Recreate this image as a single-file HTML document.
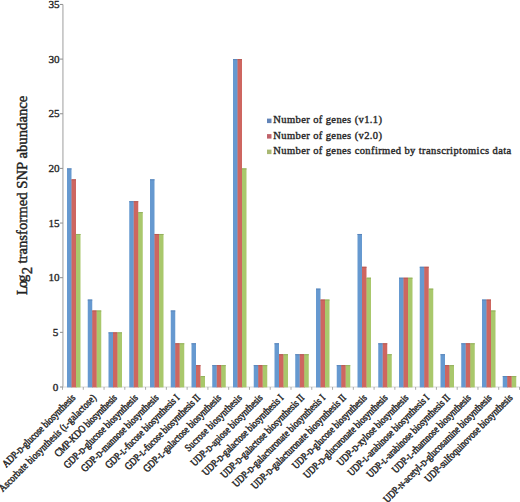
<!DOCTYPE html>
<html><head><meta charset="utf-8"><style>
html,body{margin:0;padding:0;background:#fff;width:520px;height:502px;overflow:hidden}
svg{display:block}
.t{font-family:"Liberation Serif",serif;font-size:11.2px;fill:#1e1e1e}
.s{font-family:"Liberation Serif",serif;fill:#1e1e1e}
.sc{font-size:78%;text-transform:uppercase}
</style></head><body>
<svg width="520" height="502" viewBox="0 0 520 502">
<line x1="62.90" y1="4.4" x2="62.90" y2="387.60" stroke="#c6c6c6" stroke-width="1.7"/>
<line x1="62.90" y1="387.00" x2="520" y2="387.00" stroke="#d8d8d8" stroke-width="1.20"/>
<rect x="67.00" y="168.40" width="4.50" height="219.00" fill="#6699D0"/>
<rect x="67.00" y="168.40" width="4.50" height="1.00" fill="#5a86ba"/>
<rect x="71.30" y="179.83" width="0.8" height="207.57" fill="#6699D0"/>
<rect x="71.50" y="179.33" width="4.50" height="208.07" fill="#CE6660"/>
<rect x="71.50" y="179.33" width="4.50" height="1.00" fill="#b55a55"/>
<rect x="75.80" y="234.48" width="0.8" height="152.92" fill="#CE6660"/>
<rect x="76.00" y="233.98" width="4.50" height="153.42" fill="#A9C86C"/>
<rect x="76.00" y="233.98" width="4.50" height="1.00" fill="#94b05e"/>
<rect x="87.75" y="299.56" width="4.50" height="87.84" fill="#6699D0"/>
<rect x="87.75" y="299.56" width="4.50" height="1.00" fill="#5a86ba"/>
<rect x="92.05" y="310.99" width="0.8" height="76.41" fill="#6699D0"/>
<rect x="92.25" y="310.49" width="4.50" height="76.91" fill="#CE6660"/>
<rect x="92.25" y="310.49" width="4.50" height="1.00" fill="#b55a55"/>
<rect x="96.55" y="310.99" width="0.8" height="76.41" fill="#CE6660"/>
<rect x="96.75" y="310.49" width="4.50" height="76.91" fill="#A9C86C"/>
<rect x="96.75" y="310.49" width="4.50" height="1.00" fill="#94b05e"/>
<rect x="108.50" y="332.35" width="4.50" height="55.05" fill="#6699D0"/>
<rect x="108.50" y="332.35" width="4.50" height="1.00" fill="#5a86ba"/>
<rect x="112.80" y="332.85" width="0.8" height="54.55" fill="#6699D0"/>
<rect x="113.00" y="332.35" width="4.50" height="55.05" fill="#CE6660"/>
<rect x="113.00" y="332.35" width="4.50" height="1.00" fill="#b55a55"/>
<rect x="117.30" y="332.85" width="0.8" height="54.55" fill="#CE6660"/>
<rect x="117.50" y="332.35" width="4.50" height="55.05" fill="#A9C86C"/>
<rect x="117.50" y="332.35" width="4.50" height="1.00" fill="#94b05e"/>
<rect x="129.25" y="201.19" width="4.50" height="186.21" fill="#6699D0"/>
<rect x="129.25" y="201.19" width="4.50" height="1.00" fill="#5a86ba"/>
<rect x="133.55" y="201.69" width="0.8" height="185.71" fill="#6699D0"/>
<rect x="133.75" y="201.19" width="4.50" height="186.21" fill="#CE6660"/>
<rect x="133.75" y="201.19" width="4.50" height="1.00" fill="#b55a55"/>
<rect x="138.05" y="212.62" width="0.8" height="174.78" fill="#CE6660"/>
<rect x="138.25" y="212.12" width="4.50" height="175.28" fill="#A9C86C"/>
<rect x="138.25" y="212.12" width="4.50" height="1.00" fill="#94b05e"/>
<rect x="150.00" y="179.33" width="4.50" height="208.07" fill="#6699D0"/>
<rect x="150.00" y="179.33" width="4.50" height="1.00" fill="#5a86ba"/>
<rect x="154.30" y="234.48" width="0.8" height="152.92" fill="#6699D0"/>
<rect x="154.50" y="233.98" width="4.50" height="153.42" fill="#CE6660"/>
<rect x="154.50" y="233.98" width="4.50" height="1.00" fill="#b55a55"/>
<rect x="158.80" y="234.48" width="0.8" height="152.92" fill="#CE6660"/>
<rect x="159.00" y="233.98" width="4.50" height="153.42" fill="#A9C86C"/>
<rect x="159.00" y="233.98" width="4.50" height="1.00" fill="#94b05e"/>
<rect x="170.75" y="310.49" width="4.50" height="76.91" fill="#6699D0"/>
<rect x="170.75" y="310.49" width="4.50" height="1.00" fill="#5a86ba"/>
<rect x="175.05" y="343.78" width="0.8" height="43.62" fill="#6699D0"/>
<rect x="175.25" y="343.28" width="4.50" height="44.12" fill="#CE6660"/>
<rect x="175.25" y="343.28" width="4.50" height="1.00" fill="#b55a55"/>
<rect x="179.55" y="343.78" width="0.8" height="43.62" fill="#CE6660"/>
<rect x="179.75" y="343.28" width="4.50" height="44.12" fill="#A9C86C"/>
<rect x="179.75" y="343.28" width="4.50" height="1.00" fill="#94b05e"/>
<rect x="191.50" y="343.28" width="4.50" height="44.12" fill="#6699D0"/>
<rect x="191.50" y="343.28" width="4.50" height="1.00" fill="#5a86ba"/>
<rect x="195.80" y="365.64" width="0.8" height="21.76" fill="#6699D0"/>
<rect x="196.00" y="365.14" width="4.50" height="22.26" fill="#CE6660"/>
<rect x="196.00" y="365.14" width="4.50" height="1.00" fill="#b55a55"/>
<rect x="200.30" y="376.57" width="0.8" height="10.83" fill="#CE6660"/>
<rect x="200.50" y="376.07" width="4.50" height="11.33" fill="#A9C86C"/>
<rect x="200.50" y="376.07" width="4.50" height="1.00" fill="#94b05e"/>
<rect x="212.25" y="365.14" width="4.50" height="22.26" fill="#6699D0"/>
<rect x="212.25" y="365.14" width="4.50" height="1.00" fill="#5a86ba"/>
<rect x="216.55" y="365.64" width="0.8" height="21.76" fill="#6699D0"/>
<rect x="216.75" y="365.14" width="4.50" height="22.26" fill="#CE6660"/>
<rect x="216.75" y="365.14" width="4.50" height="1.00" fill="#b55a55"/>
<rect x="221.05" y="365.64" width="0.8" height="21.76" fill="#CE6660"/>
<rect x="221.25" y="365.14" width="4.50" height="22.26" fill="#A9C86C"/>
<rect x="221.25" y="365.14" width="4.50" height="1.00" fill="#94b05e"/>
<rect x="233.00" y="59.10" width="4.50" height="328.30" fill="#6699D0"/>
<rect x="233.00" y="59.10" width="4.50" height="1.00" fill="#5a86ba"/>
<rect x="237.30" y="59.60" width="0.8" height="327.80" fill="#6699D0"/>
<rect x="237.50" y="59.10" width="4.50" height="328.30" fill="#CE6660"/>
<rect x="237.50" y="59.10" width="4.50" height="1.00" fill="#b55a55"/>
<rect x="241.80" y="168.90" width="0.8" height="218.50" fill="#CE6660"/>
<rect x="242.00" y="168.40" width="4.50" height="219.00" fill="#A9C86C"/>
<rect x="242.00" y="168.40" width="4.50" height="1.00" fill="#94b05e"/>
<rect x="253.75" y="365.14" width="4.50" height="22.26" fill="#6699D0"/>
<rect x="253.75" y="365.14" width="4.50" height="1.00" fill="#5a86ba"/>
<rect x="258.05" y="365.64" width="0.8" height="21.76" fill="#6699D0"/>
<rect x="258.25" y="365.14" width="4.50" height="22.26" fill="#CE6660"/>
<rect x="258.25" y="365.14" width="4.50" height="1.00" fill="#b55a55"/>
<rect x="262.55" y="365.64" width="0.8" height="21.76" fill="#CE6660"/>
<rect x="262.75" y="365.14" width="4.50" height="22.26" fill="#A9C86C"/>
<rect x="262.75" y="365.14" width="4.50" height="1.00" fill="#94b05e"/>
<rect x="274.50" y="343.28" width="4.50" height="44.12" fill="#6699D0"/>
<rect x="274.50" y="343.28" width="4.50" height="1.00" fill="#5a86ba"/>
<rect x="278.80" y="354.71" width="0.8" height="32.69" fill="#6699D0"/>
<rect x="279.00" y="354.21" width="4.50" height="33.19" fill="#CE6660"/>
<rect x="279.00" y="354.21" width="4.50" height="1.00" fill="#b55a55"/>
<rect x="283.30" y="354.71" width="0.8" height="32.69" fill="#CE6660"/>
<rect x="283.50" y="354.21" width="4.50" height="33.19" fill="#A9C86C"/>
<rect x="283.50" y="354.21" width="4.50" height="1.00" fill="#94b05e"/>
<rect x="295.25" y="354.21" width="4.50" height="33.19" fill="#6699D0"/>
<rect x="295.25" y="354.21" width="4.50" height="1.00" fill="#5a86ba"/>
<rect x="299.55" y="354.71" width="0.8" height="32.69" fill="#6699D0"/>
<rect x="299.75" y="354.21" width="4.50" height="33.19" fill="#CE6660"/>
<rect x="299.75" y="354.21" width="4.50" height="1.00" fill="#b55a55"/>
<rect x="304.05" y="354.71" width="0.8" height="32.69" fill="#CE6660"/>
<rect x="304.25" y="354.21" width="4.50" height="33.19" fill="#A9C86C"/>
<rect x="304.25" y="354.21" width="4.50" height="1.00" fill="#94b05e"/>
<rect x="316.00" y="288.63" width="4.50" height="98.77" fill="#6699D0"/>
<rect x="316.00" y="288.63" width="4.50" height="1.00" fill="#5a86ba"/>
<rect x="320.30" y="300.06" width="0.8" height="87.34" fill="#6699D0"/>
<rect x="320.50" y="299.56" width="4.50" height="87.84" fill="#CE6660"/>
<rect x="320.50" y="299.56" width="4.50" height="1.00" fill="#b55a55"/>
<rect x="324.80" y="300.06" width="0.8" height="87.34" fill="#CE6660"/>
<rect x="325.00" y="299.56" width="4.50" height="87.84" fill="#A9C86C"/>
<rect x="325.00" y="299.56" width="4.50" height="1.00" fill="#94b05e"/>
<rect x="336.75" y="365.14" width="4.50" height="22.26" fill="#6699D0"/>
<rect x="336.75" y="365.14" width="4.50" height="1.00" fill="#5a86ba"/>
<rect x="341.05" y="365.64" width="0.8" height="21.76" fill="#6699D0"/>
<rect x="341.25" y="365.14" width="4.50" height="22.26" fill="#CE6660"/>
<rect x="341.25" y="365.14" width="4.50" height="1.00" fill="#b55a55"/>
<rect x="345.55" y="365.64" width="0.8" height="21.76" fill="#CE6660"/>
<rect x="345.75" y="365.14" width="4.50" height="22.26" fill="#A9C86C"/>
<rect x="345.75" y="365.14" width="4.50" height="1.00" fill="#94b05e"/>
<rect x="357.50" y="233.98" width="4.50" height="153.42" fill="#6699D0"/>
<rect x="357.50" y="233.98" width="4.50" height="1.00" fill="#5a86ba"/>
<rect x="361.80" y="267.27" width="0.8" height="120.13" fill="#6699D0"/>
<rect x="362.00" y="266.77" width="4.50" height="120.63" fill="#CE6660"/>
<rect x="362.00" y="266.77" width="4.50" height="1.00" fill="#b55a55"/>
<rect x="366.30" y="278.20" width="0.8" height="109.20" fill="#CE6660"/>
<rect x="366.50" y="277.70" width="4.50" height="109.70" fill="#A9C86C"/>
<rect x="366.50" y="277.70" width="4.50" height="1.00" fill="#94b05e"/>
<rect x="378.25" y="343.28" width="4.50" height="44.12" fill="#6699D0"/>
<rect x="378.25" y="343.28" width="4.50" height="1.00" fill="#5a86ba"/>
<rect x="382.55" y="343.78" width="0.8" height="43.62" fill="#6699D0"/>
<rect x="382.75" y="343.28" width="4.50" height="44.12" fill="#CE6660"/>
<rect x="382.75" y="343.28" width="4.50" height="1.00" fill="#b55a55"/>
<rect x="387.05" y="354.71" width="0.8" height="32.69" fill="#CE6660"/>
<rect x="387.25" y="354.21" width="4.50" height="33.19" fill="#A9C86C"/>
<rect x="387.25" y="354.21" width="4.50" height="1.00" fill="#94b05e"/>
<rect x="399.00" y="277.70" width="4.50" height="109.70" fill="#6699D0"/>
<rect x="399.00" y="277.70" width="4.50" height="1.00" fill="#5a86ba"/>
<rect x="403.30" y="278.20" width="0.8" height="109.20" fill="#6699D0"/>
<rect x="403.50" y="277.70" width="4.50" height="109.70" fill="#CE6660"/>
<rect x="403.50" y="277.70" width="4.50" height="1.00" fill="#b55a55"/>
<rect x="407.80" y="278.20" width="0.8" height="109.20" fill="#CE6660"/>
<rect x="408.00" y="277.70" width="4.50" height="109.70" fill="#A9C86C"/>
<rect x="408.00" y="277.70" width="4.50" height="1.00" fill="#94b05e"/>
<rect x="419.75" y="266.77" width="4.50" height="120.63" fill="#6699D0"/>
<rect x="419.75" y="266.77" width="4.50" height="1.00" fill="#5a86ba"/>
<rect x="424.05" y="267.27" width="0.8" height="120.13" fill="#6699D0"/>
<rect x="424.25" y="266.77" width="4.50" height="120.63" fill="#CE6660"/>
<rect x="424.25" y="266.77" width="4.50" height="1.00" fill="#b55a55"/>
<rect x="428.55" y="289.13" width="0.8" height="98.27" fill="#CE6660"/>
<rect x="428.75" y="288.63" width="4.50" height="98.77" fill="#A9C86C"/>
<rect x="428.75" y="288.63" width="4.50" height="1.00" fill="#94b05e"/>
<rect x="440.50" y="354.21" width="4.50" height="33.19" fill="#6699D0"/>
<rect x="440.50" y="354.21" width="4.50" height="1.00" fill="#5a86ba"/>
<rect x="444.80" y="365.64" width="0.8" height="21.76" fill="#6699D0"/>
<rect x="445.00" y="365.14" width="4.50" height="22.26" fill="#CE6660"/>
<rect x="445.00" y="365.14" width="4.50" height="1.00" fill="#b55a55"/>
<rect x="449.30" y="365.64" width="0.8" height="21.76" fill="#CE6660"/>
<rect x="449.50" y="365.14" width="4.50" height="22.26" fill="#A9C86C"/>
<rect x="449.50" y="365.14" width="4.50" height="1.00" fill="#94b05e"/>
<rect x="461.25" y="343.28" width="4.50" height="44.12" fill="#6699D0"/>
<rect x="461.25" y="343.28" width="4.50" height="1.00" fill="#5a86ba"/>
<rect x="465.55" y="343.78" width="0.8" height="43.62" fill="#6699D0"/>
<rect x="465.75" y="343.28" width="4.50" height="44.12" fill="#CE6660"/>
<rect x="465.75" y="343.28" width="4.50" height="1.00" fill="#b55a55"/>
<rect x="470.05" y="343.78" width="0.8" height="43.62" fill="#CE6660"/>
<rect x="470.25" y="343.28" width="4.50" height="44.12" fill="#A9C86C"/>
<rect x="470.25" y="343.28" width="4.50" height="1.00" fill="#94b05e"/>
<rect x="482.00" y="299.56" width="4.50" height="87.84" fill="#6699D0"/>
<rect x="482.00" y="299.56" width="4.50" height="1.00" fill="#5a86ba"/>
<rect x="486.30" y="300.06" width="0.8" height="87.34" fill="#6699D0"/>
<rect x="486.50" y="299.56" width="4.50" height="87.84" fill="#CE6660"/>
<rect x="486.50" y="299.56" width="4.50" height="1.00" fill="#b55a55"/>
<rect x="490.80" y="310.99" width="0.8" height="76.41" fill="#CE6660"/>
<rect x="491.00" y="310.49" width="4.50" height="76.91" fill="#A9C86C"/>
<rect x="491.00" y="310.49" width="4.50" height="1.00" fill="#94b05e"/>
<rect x="502.75" y="376.07" width="4.50" height="11.33" fill="#6699D0"/>
<rect x="502.75" y="376.07" width="4.50" height="1.00" fill="#5a86ba"/>
<rect x="507.05" y="376.57" width="0.8" height="10.83" fill="#6699D0"/>
<rect x="507.25" y="376.07" width="4.50" height="11.33" fill="#CE6660"/>
<rect x="507.25" y="376.07" width="4.50" height="1.00" fill="#b55a55"/>
<rect x="511.55" y="376.57" width="0.8" height="10.83" fill="#CE6660"/>
<rect x="511.75" y="376.07" width="4.50" height="11.33" fill="#A9C86C"/>
<rect x="511.75" y="376.07" width="4.50" height="1.00" fill="#94b05e"/>
<line x1="60.00" y1="387.00" x2="62.90" y2="387.00" stroke="#8c8c8c" stroke-width="1"/>
<text class="t" x="58.30" y="390.60" text-anchor="end" stroke="#2a2a2a" stroke-width="0.35">0</text>
<line x1="60.00" y1="332.35" x2="62.90" y2="332.35" stroke="#8c8c8c" stroke-width="1"/>
<text class="t" x="58.30" y="335.95" text-anchor="end" stroke="#2a2a2a" stroke-width="0.35">5</text>
<line x1="60.00" y1="277.70" x2="62.90" y2="277.70" stroke="#8c8c8c" stroke-width="1"/>
<text class="t" x="59.60" y="281.30" text-anchor="end" stroke="#2a2a2a" stroke-width="0.35">10</text>
<line x1="60.00" y1="223.05" x2="62.90" y2="223.05" stroke="#8c8c8c" stroke-width="1"/>
<text class="t" x="59.60" y="226.65" text-anchor="end" stroke="#2a2a2a" stroke-width="0.35">15</text>
<line x1="60.00" y1="168.40" x2="62.90" y2="168.40" stroke="#8c8c8c" stroke-width="1"/>
<text class="t" x="59.60" y="172.00" text-anchor="end" stroke="#2a2a2a" stroke-width="0.35">20</text>
<line x1="60.00" y1="113.75" x2="62.90" y2="113.75" stroke="#8c8c8c" stroke-width="1"/>
<text class="t" x="59.60" y="117.35" text-anchor="end" stroke="#2a2a2a" stroke-width="0.35">25</text>
<line x1="60.00" y1="59.10" x2="62.90" y2="59.10" stroke="#8c8c8c" stroke-width="1"/>
<text class="t" x="59.60" y="62.70" text-anchor="end" stroke="#2a2a2a" stroke-width="0.35">30</text>
<line x1="60.00" y1="4.45" x2="62.90" y2="4.45" stroke="#8c8c8c" stroke-width="1"/>
<text class="t" x="59.60" y="8.05" text-anchor="end" stroke="#2a2a2a" stroke-width="0.35">35</text>
<line x1="62.50" y1="387.00" x2="62.50" y2="389.80" stroke="#a0a0a0" stroke-width="0.9"/>
<line x1="83.27" y1="387.00" x2="83.27" y2="389.80" stroke="#a0a0a0" stroke-width="0.9"/>
<line x1="104.05" y1="387.00" x2="104.05" y2="389.80" stroke="#a0a0a0" stroke-width="0.9"/>
<line x1="124.82" y1="387.00" x2="124.82" y2="389.80" stroke="#a0a0a0" stroke-width="0.9"/>
<line x1="145.59" y1="387.00" x2="145.59" y2="389.80" stroke="#a0a0a0" stroke-width="0.9"/>
<line x1="166.37" y1="387.00" x2="166.37" y2="389.80" stroke="#a0a0a0" stroke-width="0.9"/>
<line x1="187.14" y1="387.00" x2="187.14" y2="389.80" stroke="#a0a0a0" stroke-width="0.9"/>
<line x1="207.91" y1="387.00" x2="207.91" y2="389.80" stroke="#a0a0a0" stroke-width="0.9"/>
<line x1="228.68" y1="387.00" x2="228.68" y2="389.80" stroke="#a0a0a0" stroke-width="0.9"/>
<line x1="249.46" y1="387.00" x2="249.46" y2="389.80" stroke="#a0a0a0" stroke-width="0.9"/>
<line x1="270.23" y1="387.00" x2="270.23" y2="389.80" stroke="#a0a0a0" stroke-width="0.9"/>
<line x1="291.00" y1="387.00" x2="291.00" y2="389.80" stroke="#a0a0a0" stroke-width="0.9"/>
<line x1="311.78" y1="387.00" x2="311.78" y2="389.80" stroke="#a0a0a0" stroke-width="0.9"/>
<line x1="332.55" y1="387.00" x2="332.55" y2="389.80" stroke="#a0a0a0" stroke-width="0.9"/>
<line x1="353.32" y1="387.00" x2="353.32" y2="389.80" stroke="#a0a0a0" stroke-width="0.9"/>
<line x1="374.09" y1="387.00" x2="374.09" y2="389.80" stroke="#a0a0a0" stroke-width="0.9"/>
<line x1="394.87" y1="387.00" x2="394.87" y2="389.80" stroke="#a0a0a0" stroke-width="0.9"/>
<line x1="415.64" y1="387.00" x2="415.64" y2="389.80" stroke="#a0a0a0" stroke-width="0.9"/>
<line x1="436.41" y1="387.00" x2="436.41" y2="389.80" stroke="#a0a0a0" stroke-width="0.9"/>
<line x1="457.19" y1="387.00" x2="457.19" y2="389.80" stroke="#a0a0a0" stroke-width="0.9"/>
<line x1="477.96" y1="387.00" x2="477.96" y2="389.80" stroke="#a0a0a0" stroke-width="0.9"/>
<line x1="498.73" y1="387.00" x2="498.73" y2="389.80" stroke="#a0a0a0" stroke-width="0.9"/>
<line x1="519.51" y1="387.00" x2="519.51" y2="389.80" stroke="#a0a0a0" stroke-width="0.9"/>
<text class="s" font-size="8.85" font-weight="normal" textLength="98.4" text-anchor="end" transform="translate(75.90,398.40) rotate(-45) scale(1,1.180)" stroke="#2a2a2a" stroke-width="0.40">ADP-<tspan class="sc">d</tspan>-glucose biosynthesis</text>
<text class="s" font-size="8.85" font-weight="normal" textLength="132.8" text-anchor="end" transform="translate(96.72,398.40) rotate(-45) scale(1,1.180)" stroke="#2a2a2a" stroke-width="0.40">Ascorbate biosynthesis (<tspan class="sc">l</tspan>-galactose)</text>
<text class="s" font-size="8.85" font-weight="normal" textLength="83.5" text-anchor="end" transform="translate(117.54,398.40) rotate(-45) scale(1,1.180)" stroke="#2a2a2a" stroke-width="0.40">CMP-KDO biosynthesis</text>
<text class="s" font-size="8.85" font-weight="normal" textLength="99.8" text-anchor="end" transform="translate(138.36,398.40) rotate(-45) scale(1,1.180)" stroke="#2a2a2a" stroke-width="0.40">GDP-<tspan class="sc">d</tspan>-glucose biosynthesis</text>
<text class="s" font-size="8.85" font-weight="normal" textLength="104.9" text-anchor="end" transform="translate(159.18,398.40) rotate(-45) scale(1,1.180)" stroke="#2a2a2a" stroke-width="0.40">GDP-<tspan class="sc">d</tspan>-mannose biosynthesis</text>
<text class="s" font-size="8.85" font-weight="normal" textLength="100.0" text-anchor="end" transform="translate(180.00,398.40) rotate(-45) scale(1,1.180)" stroke="#2a2a2a" stroke-width="0.40">GDP-<tspan class="sc">l</tspan>-fucose biosynthesis I</text>
<text class="s" font-size="8.85" font-weight="normal" textLength="101.8" text-anchor="end" transform="translate(200.82,398.40) rotate(-45) scale(1,1.180)" stroke="#2a2a2a" stroke-width="0.40">GDP-<tspan class="sc">l</tspan>-fucose biosynthesis II</text>
<text class="s" font-size="8.85" font-weight="normal" textLength="105.1" text-anchor="end" transform="translate(221.64,398.40) rotate(-45) scale(1,1.180)" stroke="#2a2a2a" stroke-width="0.40">GDP-<tspan class="sc">l</tspan>-galactose biosynthesis</text>
<text class="s" font-size="8.85" font-weight="normal" textLength="75.9" text-anchor="end" transform="translate(242.46,398.40) rotate(-45) scale(1,1.180)" stroke="#2a2a2a" stroke-width="0.40">Sucrose biosynthesis</text>
<text class="s" font-size="8.85" font-weight="normal" textLength="96.8" text-anchor="end" transform="translate(263.28,398.40) rotate(-45) scale(1,1.180)" stroke="#2a2a2a" stroke-width="0.40">UDP-<tspan class="sc">d</tspan>-apiose biosynthesis</text>
<text class="s" font-size="8.85" font-weight="normal" textLength="110.1" text-anchor="end" transform="translate(284.10,398.40) rotate(-45) scale(1,1.180)" stroke="#2a2a2a" stroke-width="0.40">UDP-<tspan class="sc">d</tspan>-galactose biosynthesis I</text>
<text class="s" font-size="8.85" font-weight="normal" textLength="113.5" text-anchor="end" transform="translate(304.92,398.40) rotate(-45) scale(1,1.180)" stroke="#2a2a2a" stroke-width="0.40">UDP-<tspan class="sc">d</tspan>-galactose biosynthesis II</text>
<text class="s" font-size="8.85" font-weight="normal" textLength="126.2" text-anchor="end" transform="translate(325.74,398.40) rotate(-45) scale(1,1.180)" stroke="#2a2a2a" stroke-width="0.40">UDP-<tspan class="sc">d</tspan>-galacturonate biosynthesis I</text>
<text class="s" font-size="8.85" font-weight="normal" textLength="129.3" text-anchor="end" transform="translate(346.56,398.40) rotate(-45) scale(1,1.180)" stroke="#2a2a2a" stroke-width="0.40">UDP-<tspan class="sc">d</tspan>-galacturonate biosynthesis II</text>
<text class="s" font-size="8.85" font-weight="normal" textLength="100.5" text-anchor="end" transform="translate(367.38,398.40) rotate(-45) scale(1,1.180)" stroke="#2a2a2a" stroke-width="0.40">UDP-<tspan class="sc">d</tspan>-glucose biosynthesis</text>
<text class="s" font-size="8.85" font-weight="normal" textLength="114.0" text-anchor="end" transform="translate(388.20,398.40) rotate(-45) scale(1,1.180)" stroke="#2a2a2a" stroke-width="0.40">UDP-<tspan class="sc">d</tspan>-glucuronate biosynthesis</text>
<text class="s" font-size="8.85" font-weight="normal" textLength="96.2" text-anchor="end" transform="translate(409.02,398.40) rotate(-45) scale(1,1.180)" stroke="#2a2a2a" stroke-width="0.40">UDP-<tspan class="sc">d</tspan>-xylose biosynthesis</text>
<text class="s" font-size="8.85" font-weight="normal" textLength="110.4" text-anchor="end" transform="translate(429.84,398.40) rotate(-45) scale(1,1.180)" stroke="#2a2a2a" stroke-width="0.40">UDP-<tspan class="sc">l</tspan>-arabinose biosynthesis I</text>
<text class="s" font-size="8.85" font-weight="normal" textLength="113.1" text-anchor="end" transform="translate(450.66,398.40) rotate(-45) scale(1,1.180)" stroke="#2a2a2a" stroke-width="0.40">UDP-<tspan class="sc">l</tspan>-arabinose biosynthesis II</text>
<text class="s" font-size="8.85" font-weight="normal" textLength="106.6" text-anchor="end" transform="translate(471.48,398.40) rotate(-45) scale(1,1.180)" stroke="#2a2a2a" stroke-width="0.40">UDP-<tspan class="sc">l</tspan>-rhamnose biosynthesis</text>
<text class="s" font-size="8.85" font-weight="normal" textLength="148.3" text-anchor="end" transform="translate(492.30,398.40) rotate(-45) scale(1,1.180)" stroke="#2a2a2a" stroke-width="0.40">UDP-<tspan class="sc">n</tspan>-acetyl-<tspan class="sc">d</tspan>-glucosamine biosynthesis</text>
<text class="s" font-size="8.85" font-weight="normal" textLength="119.4" text-anchor="end" transform="translate(513.12,398.40) rotate(-45) scale(1,1.180)" stroke="#2a2a2a" stroke-width="0.40">UDP-sulfoquinovose biosynthesis</text>
<text class="s" font-size="14.70" textLength="20.30" transform="translate(27.00,295.00) rotate(-90)" stroke="#2a2a2a" stroke-width="0.45">Log</text>
<text class="s" font-size="14.70" transform="translate(31.50,274.30) rotate(-90)" stroke="#2a2a2a" stroke-width="0.45">2</text>
<text class="s" font-size="14.70" textLength="168.00" transform="translate(27.00,263.60) rotate(-90)" stroke="#2a2a2a" stroke-width="0.45">transformed SNP abundance</text>
<rect x="267" y="118.60" width="4.5" height="4.5" fill="#6284b8"/>
<text class="s" font-size="10.50" font-weight="normal" letter-spacing="0.40" x="273.30" y="123.20" stroke="#2a2a2a" stroke-width="0.40">Number of genes (v1.1)</text>
<rect x="267" y="134.10" width="4.5" height="4.5" fill="#c0636a"/>
<text class="s" font-size="10.50" font-weight="normal" letter-spacing="0.40" x="273.30" y="138.70" stroke="#2a2a2a" stroke-width="0.40">Number of genes (v2.0)</text>
<rect x="267" y="149.60" width="4.5" height="4.5" fill="#a9b873"/>
<text class="s" font-size="10.50" font-weight="normal" letter-spacing="0.40" x="273.30" y="154.20" stroke="#2a2a2a" stroke-width="0.40">Number of genes confirmed by transcriptomics data</text>
</svg></body></html>
